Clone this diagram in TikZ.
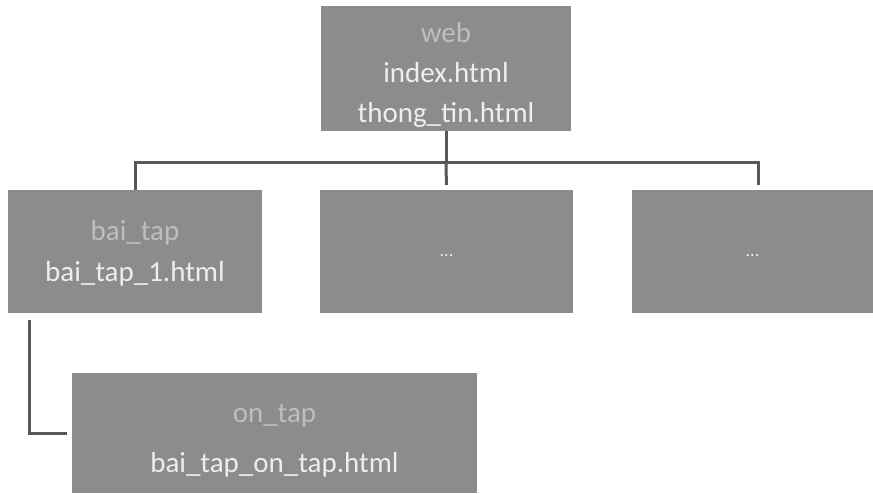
\documentclass[tikz,border=0pt]{standalone}
\usepackage{fontspec}
\setmainfont{Carlito}
\definecolor{boxfill}{RGB}{140,140,140}
\definecolor{headtxt}{RGB}{190,190,190}
\definecolor{maintxt}{RGB}{238,238,238}
\definecolor{linec}{RGB}{88,88,88}
\begin{document}
\begin{tikzpicture}[x=1pt,y=-1pt,
  folder/.style={fill=boxfill, draw=none, inner sep=0pt},
  txt/.style={text=maintxt, align=center, inner sep=0pt, font=\fontsize{29}{41}\selectfont},
  conn/.style={draw=linec, line width=3pt}]
\useasboundingbox (0,0) rectangle (873,493);
\node[folder, minimum width=250pt, minimum height=125pt] (web) at (446,68.5) {};
\node[txt, font=\fontsize{29}{40}\selectfont] (webt) at ([yshift=-6pt]web.center)
  {\textcolor{headtxt}{web}\\index.html\\thong\_tin.html};
\node[folder, minimum width=254pt, minimum height=123pt] (bai) at (135,251.5) {};
\node[txt] (bait) at ([yshift=-2pt]bai.center)
  {\textcolor{headtxt}{bai\_tap}\\bai\_tap\_1.html};
\node[folder, minimum width=253pt, minimum height=123pt] (mid) at (446.5,251.5) {};
\node[txt, font=\fontsize{18}{20}\selectfont] (midt) at ([yshift=-4pt]mid.center) {...};
\node[folder, minimum width=241pt, minimum height=123pt] (rgt) at (752.5,251.5) {};
\node[txt, font=\fontsize{18}{20}\selectfont] (rgtt) at ([yshift=-4pt]rgt.center) {...};
\node[folder, minimum width=405pt, minimum height=120pt] (ontap) at (274.5,433) {};
\node[txt, font=\fontsize{29}{50}\selectfont] (ontapt) at ([yshift=-8pt]ontap.center)
  {\textcolor{headtxt}{on\_tap}\\bai\_tap\_on\_tap.html};
\coordinate (bus) at (446,162);
\draw[conn] (web.south) -- (bus);
\draw[conn, shorten >=5pt] (bus) -- (mid.north);
\draw[conn, shorten >=5pt] (bai.north) |- (bus) -| ([xshift=6pt]rgt.north);
\draw[conn, shorten >=5pt] ([xshift=22pt,yshift=-7pt]bai.south west) |- (ontap.west);
\end{tikzpicture}
\end{document}
